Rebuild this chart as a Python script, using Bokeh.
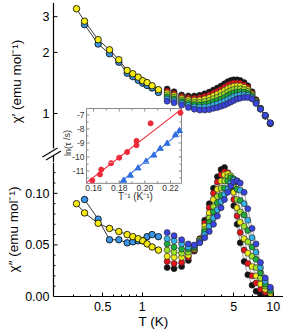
from math import log10
from bokeh.plotting import figure
from bokeh.layouts import column
from bokeh.models import Range1d, LinearScale, FixedTicker, PrintfTickFormatter
from bokeh.embed import file_html
from bokeh.resources import INLINE
from bokeh.core.properties import value

# ---------------- data ----------------
# low-temperature series (yellow / blue circles)
T_low_y = [0.315, 0.363, 0.461, 0.563, 0.663, 0.768, 0.848, 0.932, 1.01, 1.09, 1.19, 1.33]
c1_low_y = [3.28, 2.85, 2.31, 2.06, 1.84, 1.63, 1.57, 1.51, 1.45, 1.42, 1.37, 1.31]
c2_low_y = [0.090, 0.081, 0.071, 0.066, 0.063, 0.060, 0.058, 0.056, 0.054, 0.051, 0.048, 0.045]
T_low_b = [0.363, 0.461, 0.563, 0.663, 0.768, 0.848, 0.932, 1.01, 1.09, 1.19, 1.33]
c1_low_b = [2.74, 2.20, 1.97, 1.79, 1.58, 1.52, 1.46, 1.41, 1.375, 1.335, 1.27]
c2_low_b = [0.094, 0.075, 0.055, 0.055, 0.052, 0.053, 0.054, 0.054, 0.058, 0.060, 0.058]

# high-temperature series (one per frequency)
T_hi = [1.55, 1.75, 2.0, 2.25, 2.5, 2.75, 3.0, 3.25, 3.5, 3.75, 4.0, 4.25,
        4.5, 4.75, 5.0, 5.3, 5.6, 6.0, 6.4, 6.9, 7.4, 8.0, 8.7, 9.5]
c1_k = [1.320, 1.280, 1.235, 1.220, 1.220, 1.230, 1.250, 1.275, 1.305, 1.335, 1.365, 1.400,
        1.435, 1.455, 1.465, 1.465, 1.455, 1.420, 1.370, 1.280, 1.170, 1.060, 0.970, 0.890]
c1_r = [1.292, 1.255, 1.213, 1.195, 1.192, 1.198, 1.215, 1.237, 1.264, 1.291, 1.318, 1.350,
        1.383, 1.403, 1.414, 1.418, 1.411, 1.383, 1.342, 1.263, 1.162, 1.058, 0.972, 0.892]
c1_y = [1.263, 1.230, 1.190, 1.170, 1.163, 1.167, 1.180, 1.198, 1.223, 1.247, 1.272, 1.300,
        1.330, 1.350, 1.363, 1.370, 1.367, 1.347, 1.313, 1.247, 1.153, 1.057, 0.973, 0.893]
c1_lg = [1.235, 1.205, 1.168, 1.145, 1.135, 1.135, 1.145, 1.160, 1.183, 1.203, 1.225, 1.250,
         1.278, 1.298, 1.313, 1.323, 1.323, 1.310, 1.285, 1.230, 1.145, 1.055, 0.975, 0.895]
c1_g = [1.207, 1.180, 1.145, 1.120, 1.107, 1.103, 1.110, 1.122, 1.142, 1.158, 1.178, 1.200,
        1.225, 1.245, 1.262, 1.275, 1.278, 1.273, 1.257, 1.213, 1.137, 1.053, 0.977, 0.897]
c1_c = [1.178, 1.155, 1.123, 1.095, 1.078, 1.072, 1.075, 1.083, 1.101, 1.114, 1.132, 1.150,
        1.173, 1.193, 1.211, 1.228, 1.234, 1.237, 1.228, 1.197, 1.128, 1.052, 0.978, 0.898]
c1_b = [1.150, 1.130, 1.100, 1.070, 1.050, 1.040, 1.040, 1.045, 1.060, 1.070, 1.085, 1.100,
        1.120, 1.140, 1.160, 1.180, 1.190, 1.200, 1.200, 1.180, 1.120, 1.050, 0.980, 0.900]

c2_k = [0.028, 0.027, 0.029, 0.035, 0.044, 0.056, 0.074, 0.090, 0.105, 0.116, 0.123, 0.125,
        0.118, 0.104, 0.088, 0.070, 0.052, 0.034, 0.021, 0.011, 0.005, 0.002, 0.001, 0.000]
c2_r = [0.034, 0.032, 0.033, 0.038, 0.045, 0.055, 0.071, 0.086, 0.100, 0.111, 0.118, 0.121,
        0.120, 0.108, 0.094, 0.078, 0.062, 0.045, 0.032, 0.020, 0.013, 0.007, 0.004, 0.0015]
c2_y = [0.039, 0.038, 0.038, 0.040, 0.046, 0.055, 0.068, 0.081, 0.094, 0.104, 0.112, 0.118,
        0.119, 0.114, 0.101, 0.086, 0.072, 0.056, 0.042, 0.029, 0.020, 0.012, 0.007, 0.003]
c2_lg = [0.045, 0.043, 0.042, 0.043, 0.047, 0.054, 0.065, 0.076, 0.087, 0.097, 0.105, 0.112,
         0.116, 0.117, 0.108, 0.094, 0.082, 0.068, 0.053, 0.039, 0.028, 0.018, 0.010, 0.005]
c2_g = [0.051, 0.048, 0.046, 0.046, 0.048, 0.053, 0.063, 0.072, 0.082, 0.091, 0.098, 0.105,
        0.112, 0.115, 0.114, 0.104, 0.093, 0.079, 0.064, 0.048, 0.036, 0.023, 0.012, 0.006]
c2_c = [0.056, 0.054, 0.051, 0.048, 0.049, 0.053, 0.060, 0.068, 0.076, 0.084, 0.092, 0.099,
        0.104, 0.110, 0.113, 0.112, 0.103, 0.090, 0.074, 0.057, 0.043, 0.028, 0.015, 0.008]
c2_b = [0.062, 0.059, 0.055, 0.051, 0.050, 0.052, 0.057, 0.063, 0.070, 0.078, 0.086, 0.094,
        0.101, 0.107, 0.111, 0.112, 0.110, 0.101, 0.085, 0.066, 0.051, 0.033, 0.018, 0.009]

hi_colors = ["#141414", "#e8141c", "#f2ea1a", "#9ee22c", "#1fae3b", "#35b4ea", "#3a45e0"]
chi1_hi = [c1_k, c1_r, c1_y, c1_lg, c1_g, c1_c, c1_b]
chi2_hi = [c2_k, c2_r, c2_y, c2_lg, c2_g, c2_c, c2_b]

# inset: ln(tau) vs 1/T
inv_T_red = [0.159, 0.165, 0.166, 0.1737, 0.180, 0.1862, 0.1935, 0.1935, 0.2045, 0.2278]
ln_tau_red = [-11.68, -11.25, -10.9, -10.44, -10.05, -9.65, -9.16, -8.85, -7.6, -6.84]
inv_T_blue = [0.1835, 0.1887, 0.1947, 0.201, 0.207, 0.212, 0.2174, 0.2238, 0.227]
ln_tau_blue = [-11.68, -11.32, -10.8, -10.32, -9.88, -9.4, -9.04, -8.44, -8.13]
fit_red = (70.88, -22.786)      # slope, intercept
fit_blue = (77.1, -25.76)
fit_red_x = [0.1545, 0.2286]
fit_blue_x = [0.1804, 0.2286]

x_major = [0.5, 1, 5, 10]
x_minor = [0.3, 0.4, 0.6, 0.7, 0.8, 0.9, 2, 3, 4, 6, 7, 8, 9]
top_y_ticks = [1, 2, 3]
top_y_labels = ["1", "2", "3"]
bot_y_ticks = [0.0, 0.05, 0.10]
bot_y_minor = [0.01, 0.02, 0.03, 0.04, 0.06, 0.07, 0.08, 0.09, 0.11, 0.12]
in_x_major = [0.16, 0.18, 0.20, 0.22]
in_x_minor = [0.17, 0.19, 0.21]
in_x_labels = ["0.16", "0.18", "0.20", "0.22"]
in_y_major = [-11, -10, -9, -8, -7]
in_y_minor = [-11.5, -10.5, -9.5, -8.5, -7.5]
in_y_labels = ["-11", "-10", "-9", "-8", "-7"]

# ---------------- layout (page pixels) ----------------
W = 283
H_TOP = 162
H_BOT = 169
LEFT = 23          # frame left edge of both canvases
AXIS_PX = 53       # where the y axes are drawn
BOT = 34
TOP_Y0, TOP_Y1 = 0, H_TOP
BOT_Y0, BOT_Y1 = H_TOP, H_TOP + H_BOT - BOT

PX_1K, PX_DEC = 141.7, 131.0   # x pixel of T = 1 K, pixels per decade


def tx(px):
    return 10 ** ((px - PX_1K) / PX_DEC)


X_AXIS_AT = tx(AXIS_PX)
YR_TOP = (0.5736, 3.603)
YR_BOT = (0.0, 0.1299)


def ytop(py):
    lt0, lt1 = log10(YR_TOP[0]), log10(YR_TOP[1])
    return 10 ** (lt1 - (py - TOP_Y0) / (TOP_Y1 - TOP_Y0) * (lt1 - lt0))


IN_X = (86.0, 181.0)
IN_Y = (108.0, 183.0)
IX = (0.1545, 0.2286)
IY = (-11.89, -6.54)
DXPX = (IX[1] - IX[0]) / (IN_X[1] - IN_X[0])
DYPX = (IY[1] - IY[0]) / (IN_Y[1] - IN_Y[0])


def ix(px):
    return IX[0] + (px - IN_X[0]) * DXPX


def iy(py):
    return IY[1] - (py - IN_Y[0]) * DYPX


FONT = "Liberation Sans"


def style_common(p):
    p.grid.visible = False
    p.outline_line_color = None
    p.background_fill_color = "white"
    p.border_fill_color = "white"


def style_axis(ax):
    ax.axis_line_color = "black"
    ax.axis_line_width = 1.2
    ax.major_tick_in = 4
    ax.major_tick_out = 0
    ax.minor_tick_in = 2
    ax.minor_tick_out = 0
    ax.major_tick_line_color = "black"
    ax.minor_tick_line_color = "black"
    ax.major_label_text_font = FONT
    ax.major_label_text_font_size = "12.5px"
    ax.major_label_text_color = "black"
    ax.axis_label_text_font = FONT
    ax.axis_label_text_font_size = "13.5px"
    ax.axis_label_text_font_style = "normal"
    ax.axis_label_text_color = "black"
    ax.major_label_standoff = 4


xr = Range1d(tx(LEFT), tx(W))
top = figure(width=W, height=H_TOP, x_range=xr, y_range=Range1d(*YR_TOP),
             x_axis_type="log", y_axis_type="log", x_axis_location=None,
             output_backend="svg", toolbar_location=None,
             min_border_left=LEFT, min_border_right=0, min_border_top=0, min_border_bottom=0)
bot = figure(width=W, height=H_BOT, x_range=xr, y_range=Range1d(*YR_BOT),
             x_axis_type="log", output_backend="svg", toolbar_location=None,
             min_border_left=LEFT, min_border_right=0, min_border_top=0, min_border_bottom=BOT)
for p in (top, bot):
    style_common(p)

# upper y axis model: title only (line, ticks, labels drawn at x = 53)
ya = top.yaxis[0]
style_axis(ya)
ya.ticker = FixedTicker(ticks=[], minor_ticks=[])
ya.axis_line_color = None
ya.major_label_standoff = 0
ya.axis_label_standoff = 0
ya.axis_label = "χ′ (emu mol⁻¹)"

# lower y axis model: title and tick labels (shifted right so they end next to x = 53)
yb = bot.yaxis[0]
style_axis(yb)
yb.ticker = FixedTicker(ticks=bot_y_ticks, minor_ticks=[])
yb.formatter = PrintfTickFormatter(format="%.2f")
yb.axis_line_color = None
yb.major_tick_line_color = None
yb.major_tick_in = 0
yb.major_label_standoff = -(AXIS_PX - 4 - LEFT)
yb.axis_label_standoff = 1
yb.axis_label = "χ″ (emu mol⁻¹)"

xa = bot.xaxis[0]
style_axis(xa)
xa.ticker = FixedTicker(ticks=x_major, minor_ticks=x_minor)
xa.formatter = PrintfTickFormatter(format="%g")
xa.bounds = (X_AXIS_AT, tx(W))
xa.axis_label = "T (K)"
xa.axis_label_standoff = 0
xa.major_label_standoff = 5


def draw_y_axis(p, lo, hi, ticks, minor):
    p.segment(x0=[X_AXIS_AT], y0=[lo], x1=[X_AXIS_AT], y1=[hi], line_color="black", line_width=1.2)
    n = len(ticks)
    p.segment(x0=[X_AXIS_AT] * n, y0=ticks, x1=[tx(AXIS_PX + 4)] * n, y1=ticks,
              line_color="black", line_width=1)
    if minor:
        m = len(minor)
        p.segment(x0=[X_AXIS_AT] * m, y0=minor, x1=[tx(AXIS_PX + 2)] * m, y1=minor,
                  line_color="black", line_width=1)


draw_y_axis(top, 0.672, 3.5, top_y_ticks, [])
draw_y_axis(bot, 0.0, YR_BOT[1], bot_y_ticks, bot_y_minor)
nt = len(top_y_ticks)
top.text(x=[X_AXIS_AT] * nt, y=top_y_ticks, text=top_y_labels, x_offset=-4,
         text_font=value(FONT), text_font_size="12.5px", text_color="black",
         text_align="right", text_baseline="middle")


def add_inset_ranges(p, py0, py1):
    p.extra_x_ranges = {"ix": Range1d(ix(LEFT), ix(W))}
    p.extra_x_scales = {"ix": LinearScale()}
    p.extra_y_ranges = {"iy": Range1d(iy(py1), iy(py0))}
    p.extra_y_scales = {"iy": LinearScale()}


add_inset_ranges(top, TOP_Y0, TOP_Y1)
add_inset_ranges(bot, BOT_Y0, BOT_Y1)

R = dict(x_range_name="ix", y_range_name="iy")
TXT = dict(text_font=value(FONT), text_color="#333333", **R)


def draw_inset_box(p):
    p.quad(left=[IX[0]], right=[IX[1]], bottom=[IY[0]], top=[IY[1]],
           fill_color="white", line_color="#8a8a8a", line_width=1, **R)


def draw_inset_marks(p):
    tc = "#8a8a8a"
    for ticks, ln in ((in_x_major, 3), (in_x_minor, 2)):
        n = len(ticks)
        p.segment(x0=ticks, y0=[IY[0]] * n, x1=ticks, y1=[IY[0] + ln * DYPX] * n,
                  line_color=tc, line_width=1, **R)
        p.segment(x0=ticks, y0=[IY[1]] * n, x1=ticks, y1=[IY[1] - ln * DYPX] * n,
                  line_color=tc, line_width=1, **R)
    for ticks, ln in ((in_y_major, 3), (in_y_minor, 2)):
        n = len(ticks)
        p.segment(x0=[IX[0]] * n, y0=ticks, x1=[IX[0] + ln * DXPX] * n, y1=ticks,
                  line_color=tc, line_width=1, **R)
        p.segment(x0=[IX[1]] * n, y0=ticks, x1=[IX[1] - ln * DXPX] * n, y1=ticks,
                  line_color=tc, line_width=1, **R)
    mr, br = fit_red
    mb, bb = fit_blue
    p.line(fit_red_x, [mr * x + br for x in fit_red_x], line_color="#ee2a3a", line_width=1.1, **R)
    p.line(fit_blue_x, [mb * x + bb for x in fit_blue_x], line_color="#2f6fe0", line_width=1.1, **R)
    p.scatter(inv_T_red, ln_tau_red, marker="circle", size=5, fill_color="#ee2a3a",
              line_color="#ee2a3a", **R)
    p.scatter(inv_T_blue, ln_tau_blue, marker="triangle", size=6, fill_color="#2f6fe0",
              line_color="#2f6fe0", **R)


def draw_inset_texts_top(p):
    ys = [v for v in in_y_major if v > -10.5]
    labs = [l for v, l in zip(in_y_major, in_y_labels) if v > -10.5]
    p.text(x=[IX[0]] * len(ys), y=ys, text=labs, text_font_size="8.5px",
           text_align="right", text_baseline="middle", x_offset=-2, **TXT)
    p.text(x=[ix(67)], y=[iy(142.5)], text=["ln(τ /s)"], angle=1.5708,
           text_font_size="9px", text_align="center", text_baseline="middle", **TXT)


def draw_inset_texts_bot(p):
    ys = [v for v in in_y_major if v < -10.5]
    labs = [l for v, l in zip(in_y_major, in_y_labels) if v < -10.5]
    p.text(x=[IX[0]] * len(ys), y=ys, text=labs, text_font_size="8.5px",
           text_align="right", text_baseline="middle", x_offset=-2, **TXT)
    p.text(x=in_x_major, y=[IY[0]] * len(in_x_major), text=in_x_labels,
           text_font_size="8.5px", text_align="center", text_baseline="top", y_offset=2, **TXT)
    p.text(x=[ix(135)], y=[iy(196)], text=["T⁻¹ (K⁻¹)"],
           text_font_size="10px", text_align="center", text_baseline="middle", **TXT)


for p in (top, bot):
    draw_inset_box(p)

# upper end of the lower axis line, and the two slanted break marks
top.segment(x0=[X_AXIS_AT], y0=[ytop(155)], x1=[X_AXIS_AT], y1=[ytop(TOP_Y1)],
            line_color="black", line_width=1.2)
brk_x0 = [tx(42.0), tx(45.5)]
brk_x1 = [tx(57.0), tx(60.5)]
brk_y0 = [ytop(156.5), ytop(159.5)]
brk_y1 = [ytop(147.5), ytop(150.5)]
top.segment(x0=brk_x0, y0=brk_y0, x1=brk_x1, y1=brk_y1, line_color="black", line_width=1.1)

# --- chi' (top) ---
top.line(T_low_b, c1_low_b, line_color="black", line_width=0.8)
top.line(T_low_y, c1_low_y, line_color="black", line_width=0.8)
top.scatter(T_low_b, c1_low_b, size=6.5, fill_color="#3d95e6", line_color="black", line_width=0.8)
top.scatter(T_low_y, c1_low_y, size=6.5, fill_color="#f5ea14", line_color="black", line_width=0.8)
for col, vals in zip(hi_colors, chi1_hi):
    top.line(T_hi, vals, line_color="#444444", line_width=0.5)
    top.scatter(T_hi, vals, size=6, fill_color=col, line_color="#222222", line_width=0.6)

# --- chi'' (bottom) ---
bot.line(T_low_b, c2_low_b, line_color="black", line_width=0.8)
bot.line(T_low_y, c2_low_y, line_color="black", line_width=0.8)
bot.scatter(T_low_b, c2_low_b, size=6.5, fill_color="#3d95e6", line_color="black", line_width=0.8)
bot.scatter(T_low_y, c2_low_y, size=6.5, fill_color="#f5ea14", line_color="black", line_width=0.8)
for col, vals in zip(hi_colors, chi2_hi):
    bot.line(T_hi, vals, line_color="#444444", line_width=0.5)
    bot.scatter(T_hi, vals, size=6, fill_color=col, line_color="#222222", line_width=0.6)

for p in (top, bot):
    draw_inset_marks(p)
draw_inset_texts_top(top)
draw_inset_texts_bot(bot)

layout = column(top, bot, spacing=0)
open("out.html", "w").write(file_html(layout, INLINE))
